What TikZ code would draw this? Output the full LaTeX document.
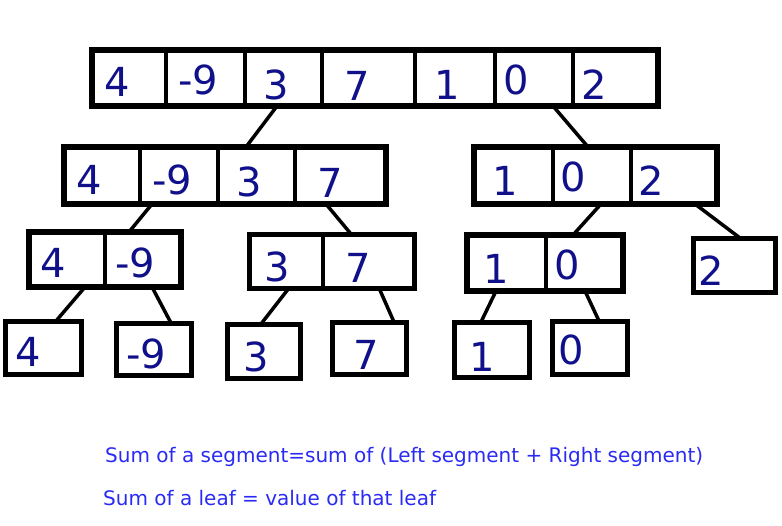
\documentclass[tikz,border=0pt]{standalone}
\usepackage{fontspec}
\setmainfont{DejaVu Sans}
\usetikzlibrary{calc}
\definecolor{digit}{HTML}{10108A}
\definecolor{notec}{HTML}{2A2AF5}
\begin{document}
\begin{tikzpicture}[x=1pt,y=-1pt,
 arr/.style={draw=black,line width=6.5pt,anchor=north west,inner sep=0pt,outer sep=0pt},
 leafbox/.style={arr,line width=5pt},
 div/.style={line width=4.5pt},
 num/.style={text=digit,font=\fontsize{40}{40}\selectfont,inner sep=0pt},
 link/.style={line width=3.5pt},
 notet/.style={text=notec,font=\fontsize{20}{24}\selectfont,anchor=west,inner sep=0pt}]
\useasboundingbox (0,0) rectangle (782,525);
% boxes
\node[arr,minimum width=566pt,minimum height=56pt] (t) at (92,50) {};
\node[arr,minimum width=322pt,minimum height=57pt] (L) at (64,147) {};
\node[arr,minimum width=243pt,minimum height=57pt] (R) at (474,147) {};
\node[arr,minimum width=152pt,minimum height=55pt] (A) at (29,232) {};
\node[leafbox,minimum width=165pt,minimum height=54pt] (B) at (249,234) {};
\node[arr,minimum width=156pt,minimum height=56pt] (C) at (467,235) {};
\node[leafbox,minimum width=82pt,minimum height=54pt] (D) at (693,238) {};
\node[leafbox,minimum width=76pt,minimum height=53pt] (l4) at (5,321) {};
\node[leafbox,minimum width=75pt,minimum height=52pt] (l9) at (116,323) {};
\node[leafbox,minimum width=73pt,minimum height=54pt] (l3) at (227,324) {};
\node[leafbox,minimum width=74pt,minimum height=52pt] (l7) at (332,322) {};
\node[leafbox,minimum width=75pt,minimum height=55pt] (l1) at (454,322) {};
\node[leafbox,minimum width=75pt,minimum height=53pt] (l0) at (552,321) {};
% dividers
\foreach \b/\d in {t/74,t/153,t/230,t/323,t/403,t/481,L/76,L/154,L/231,R/79,R/157,A/76,B/74,C/79}
  \draw[div] ([xshift=\d pt]\b.north west) -- ([xshift=\d pt]\b.south west);
% digits
\node[num] (t1) at (117,82) {4};
\node[num] (t2) at (198,80) {-9};
\node[num] (t3) at (276,85) {3};
\node[num] (t4) at (357,86) {7};
\node[num] (t5) at (447,85) {1};
\node[num] (t6) at (516,80) {0};
\node[num] (t7) at (594,85) {2};
\node[num] (L1) at (89,180) {4};
\node[num] (L2) at (172,180) {-9};
\node[num] (L3) at (249,182) {3};
\node[num] (L4) at (330,183) {7};
\node[num] (R1) at (505,181) {1};
\node[num] (R2) at (573,177) {0};
\node[num] (R3) at (651,181) {2};
\node[num] (A1) at (53,263) {4};
\node[num] (A2) at (135,263) {-9};
\node[num] (B1) at (277,267) {3};
\node[num] (B2) at (358,268) {7};
\node[num] (C1) at (496,269) {1};
\node[num] (C2) at (567,265) {0};
\node[num] (D1) at (711,271) {2};
\node[num] (m4) at (28,352) {4};
\node[num] (m9) at (146,354) {-9};
\node[num] (m3) at (256,357) {3};
\node[num] (m7) at (366,355) {7};
\node[num] (m1) at (482,357) {1};
\node[num] (m0) at (571,350) {0};
% connectors
\foreach \p/\a/\c/\b in {t/185/L/182, t/461/R/114, L/88/A/100, L/262/B/102, R/127/C/106, R/221/D/47,
  A/56/l4/51, A/123/l9/55, B/40/l3/34, B/130/l7/62, C/29/l1/27, C/118/l0/47}
  \draw[link] ([xshift=\a pt]\p.south west) -- ([xshift=\b pt]\c.north west);
% notes
\node[notet] (n1) at (105,457) {Sum of a segment=sum of (Left segment + Right segment)};
\node[notet] (n2) at (103,498) {Sum of a leaf = value of that leaf};
\end{tikzpicture}
\end{document}
